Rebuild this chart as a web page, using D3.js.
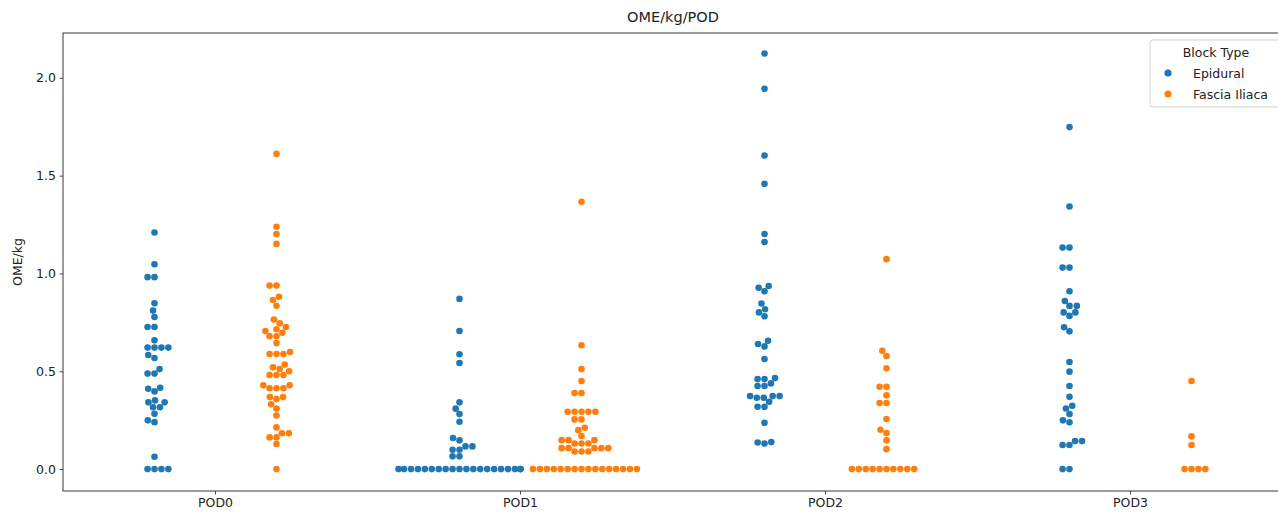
<!DOCTYPE html>
<html><head><meta charset="utf-8">
<script src="https://cdn.jsdelivr.net/npm/d3@7"></script>
<style>body{margin:0;background:#fff} text{font-family:"DejaVu Sans",sans-serif;fill:#222}</style>
</head><body><svg id="c" width="1278" height="514"></svg>
<script>
const categories = ["POD0","POD1","POD2","POD3"];
const hues = ["Epidural","Fascia Iliaca"];
const hueColors = ["#1f77b4","#ff7f0e"];
const yTicks = [0, 0.5, 1.0, 1.5, 2.0];
const chartTitle = "OME/kg/POD";
const yLabel = "OME/kg";
const legendTitle = "Block Type";

const epiduralPOD0 = [1.209,1.047,0.981,0.981,0.848,0.810,0.777,0.726,0.726,0.658,0.621,0.621,0.621,0.621,0.583,0.568,0.511,0.488,0.488,0.416,0.411,0.397,0.351,0.341,0.341,0.316,0.316,0.283,0.249,0.240,0.063,0,0,0,0];
const fasciaPOD0 = [1.611,1.239,1.202,1.151,0.938,0.938,0.881,0.864,0.835,0.764,0.745,0.726,0.715,0.706,0.697,0.679,0.679,0.644,0.598,0.588,0.588,0.588,0.534,0.520,0.511,0.500,0.481,0.481,0.481,0.428,0.428,0.413,0.413,0.413,0.368,0.368,0.358,0.331,0.310,0.274,0.213,0.183,0.183,0.162,0.162,0.128,0];
const epiduralPOD1 = [0.870,0.706,0.587,0.542,0.341,0.309,0.281,0.242,0.159,0.147,0.116,0.116,0.099,0.099,0.065,0.065,0,0,0,0,0,0,0,0,0,0,0,0,0,0,0,0,0,0,0,0];
const fasciaPOD1 = [1.366,0.633,0.511,0.450,0.389,0.389,0.293,0.293,0.293,0.293,0.293,0.254,0.254,0.211,0.199,0.169,0.148,0.148,0.148,0.131,0.131,0.131,0.107,0.107,0.107,0.107,0.107,0.090,0.090,0.090,0,0,0,0,0,0,0,0,0,0,0,0,0,0,0,0];
const epiduralPOD2 = [2.124,1.944,1.603,1.458,1.202,1.161,0.936,0.927,0.909,0.846,0.817,0.801,0.781,0.656,0.639,0.627,0.563,0.465,0.460,0.460,0.438,0.425,0.425,0.373,0.373,0.373,0.365,0.365,0.344,0.319,0.319,0.237,0.136,0.131,0.138];
const fasciaPOD2 = [1.073,0.605,0.578,0.515,0.421,0.421,0.377,0.338,0.338,0.256,0.201,0.184,0.147,0.102,0,0,0,0,0,0,0,0,0,0];
const epiduralPOD3 = [1.748,1.342,1.132,1.132,1.030,1.030,0.909,0.859,0.834,0.834,0.801,0.801,0.783,0.725,0.704,0.547,0.498,0.425,0.370,0.324,0.310,0.281,0.249,0.239,0.143,0.143,0.123,0.123,0,0];
const fasciaPOD3 = [0.450,0.167,0.123,0,0,0,0];

const groups = [
  {cat:"POD0", hue:0, values:epiduralPOD0}, {cat:"POD0", hue:1, values:fasciaPOD0},
  {cat:"POD1", hue:0, values:epiduralPOD1}, {cat:"POD1", hue:1, values:fasciaPOD1},
  {cat:"POD2", hue:0, values:epiduralPOD2}, {cat:"POD2", hue:1, values:fasciaPOD2},
  {cat:"POD3", hue:0, values:epiduralPOD3}, {cat:"POD3", hue:1, values:fasciaPOD3}
];

const svg = d3.select("#c");
const L = 63, R = 1283, T = 33, B = 491;
const x = d3.scaleBand().domain(categories).range([L, R]).padding(0);
const bw = x.bandwidth();
const y = d3.scaleLinear().domain([-0.112, 2.229]).range([B, T]);
const r = 3.3;

// seaborn-like beeswarm
function beeswarm(values, mid, halfWidth) {
  const pts = values.map(v => ({v, x: mid, y: y(v)})).sort((a, b) => a.v - b.v);
  const swarm = [];
  pts.forEach((p, idx) => {
    if (idx === 0) { swarm.push({x: mid, y: p.y, v: p.v}); return; }
    const neighbors = [];
    for (let j = swarm.length - 1; j >= 0; j--) {
      if (Math.abs(p.y - swarm[j].y) < 2 * r) neighbors.push(swarm[j]); else break;
    }
    const cands = [{x: mid, y: p.y}];
    let leftFirst = true;
    neighbors.forEach(n => {
      const dy = p.y - n.y;
      const dx = Math.sqrt(Math.max(4 * r * r - dy * dy, 0)) * 1.05;
      const cl = {x: n.x - dx, y: p.y}, cr = {x: n.x + dx, y: p.y};
      if (leftFirst) cands.push(cl, cr); else cands.push(cr, cl);
      leftFirst = !leftFirst;
    });
    const sorted = cands.map((c, i) => ({c, i, o: Math.abs(c.x - mid)}))
      .sort((a, b) => a.o - b.o || a.i - b.i).map(d => d.c);
    let chosen = sorted[0];
    for (const c of sorted) {
      const ok = neighbors.every(n => (n.x - c.x) ** 2 + (n.y - c.y) ** 2 >= 4 * r * r - 1e-9);
      if (ok) { chosen = c; break; }
    }
    swarm.push({x: chosen.x, y: p.y, v: p.v});
  });
  swarm.forEach(s => { s.x = Math.max(mid - halfWidth, Math.min(mid + halfWidth, s.x)); });
  return swarm;
}

// points
const pg = svg.append("g");
groups.forEach(g => {
  const mid = x(g.cat) + bw / 2 + (g.hue === 0 ? -0.2 : 0.2) * bw;
  const pts = beeswarm(g.values, mid, 0.2 * bw);
  pg.selectAll(null).data(pts).enter().append("circle")
    .attr("cx", d => d.x).attr("cy", d => d.y).attr("r", r)
    .attr("fill", hueColors[g.hue]);
});

// axes
const yAxis = svg.append("g").attr("transform", `translate(${L},0)`)
  .call(d3.axisLeft(y).tickValues(yTicks).tickFormat(d3.format(".1f")).tickSize(3.5).tickPadding(3.5));
const xAxis = svg.append("g").attr("transform", `translate(0,${B})`)
  .call(d3.axisBottom(x).tickSize(3.5).tickPadding(3.5));
[yAxis, xAxis].forEach(a => {
  a.select(".domain").remove();
  a.selectAll("line").attr("stroke", "#222").attr("stroke-width", 0.8);
  a.selectAll("text").attr("font-size", 12.5).attr("font-family", "DejaVu Sans").attr("fill", "#222");
});
// spines
svg.append("rect").attr("x", L).attr("y", T).attr("width", R - L).attr("height", B - T)
  .attr("fill", "none").attr("stroke", "#222").attr("stroke-width", 0.9);

// title & labels
svg.append("text").attr("x", (L + R) / 2).attr("y", 22).attr("text-anchor", "middle")
  .attr("font-size", 14.5).text(chartTitle);
svg.append("text").attr("transform", `translate(22,${(T + B) / 2}) rotate(-90)`)
  .attr("text-anchor", "middle").attr("font-size", 12.5).text(yLabel);

// legend
const lg = svg.append("g");
lg.append("rect").attr("x", 1150).attr("y", 40).attr("width", 140).attr("height", 67).attr("rx", 3)
  .attr("fill", "#fff").attr("fill-opacity", 0.8).attr("stroke", "#ccc").attr("stroke-width", 0.9);
lg.append("text").attr("x", 1216).attr("y", 57).attr("text-anchor", "middle").attr("font-size", 12.5).text(legendTitle);
hues.forEach((h, i) => {
  const cy = 73 + i * 21;
  lg.append("circle").attr("cx", 1168).attr("cy", cy).attr("r", 3.6).attr("fill", hueColors[i]);
  lg.append("text").attr("x", 1193).attr("y", cy + 4.5).attr("font-size", 12.5).text(h);
});
</script></body></html>
